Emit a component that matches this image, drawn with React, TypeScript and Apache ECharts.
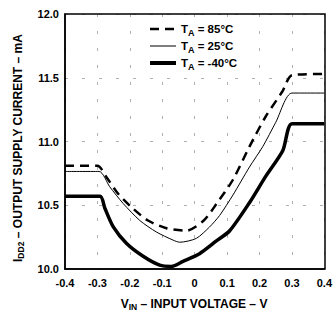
import React, { useEffect, useRef } from "react";
import * as echarts from "echarts";

const xTickLabels = ["-0.4", "-0.3", "-0.2", "-0.1", "0", "0.1", "0.2", "0.3", "0.4"];
const yTickLabels = ["10.0", "10.5", "11.0", "11.5", "12.0"];

const x85 = [-0.4, -0.3, -0.272, -0.236, -0.193, -0.144, -0.087, -0.026, 0.028, 0.067, 0.118, 0.169, 0.22, 0.27, 0.3, 0.4];
const y85 = [10.81, 10.81, 10.72, 10.59, 10.48, 10.38, 10.32, 10.3, 10.38, 10.51, 10.7, 10.96, 11.2, 11.39, 11.52, 11.53];

const x25 = [-0.4, -0.295, -0.262, -0.221, -0.169, -0.118, -0.067, -0.046, 0.005, 0.046, 0.077, 0.118, 0.169, 0.21, 0.25, 0.3, 0.4];
const y25 = [10.765, 10.765, 10.645, 10.515, 10.38, 10.29, 10.227, 10.21, 10.24, 10.33, 10.42, 10.58, 10.8, 10.96, 11.15, 11.38, 11.38];

const xm40 = [-0.4, -0.292, -0.277, -0.251, -0.21, -0.159, -0.108, -0.072, -0.036, 0.015, 0.067, 0.108, 0.169, 0.22, 0.272, 0.3, 0.4];
const ym40 = [10.57, 10.57, 10.476, 10.33, 10.2, 10.1, 10.03, 10.02, 10.06, 10.12, 10.22, 10.3, 10.52, 10.73, 10.93, 11.14, 11.14];

const seriesNames = ["TA = 85°C", "TA = 25°C", "TA = -40°C"];
const legendTemps = ["85°C", "25°C", "-40°C"];

const FONT = "Liberation Sans, Arial, sans-serif";

function pairs(xs: number[], ys: number[]) {
  return xs.map((x, i) => [x, ys[i]]);
}

export default function App() {
  const ref = useRef<HTMLDivElement>(null);
  useEffect(() => {
    if (!ref.current) return;
    const chart = echarts.init(ref.current, null, { renderer: "svg" });
    const gridLine = { show: true, lineStyle: { color: "#b0b0b0", width: 1, type: [3, 14] as any } };
    const legendWidths = [2.5, 1, 4];
    chart.setOption({
      animation: false,
      backgroundColor: "#fff",
      textStyle: { fontFamily: FONT },
      grid: { left: 65, top: 14, width: 260, height: 255, containLabel: false },
      xAxis: {
        type: "value",
        min: -0.4,
        max: 0.4,
        interval: 0.1,
        axisLine: { show: true, onZero: false, lineStyle: { color: "#000", width: 1.5 } },
        axisTick: { show: false },
        splitLine: gridLine,
        axisLabel: {
          color: "#000",
          fontSize: 11,
          fontWeight: "bold",
          fontFamily: FONT,
          margin: 8,
          formatter: (v: number) => xTickLabels[Math.round((v + 0.4) * 10)] ?? "",
        },
      },
      yAxis: {
        type: "value",
        min: 10,
        max: 12,
        interval: 0.5,
        axisLine: { show: true, onZero: false, lineStyle: { color: "#000", width: 1.5 } },
        axisTick: { show: false },
        splitLine: gridLine,
        axisLabel: {
          color: "#000",
          fontSize: 11,
          fontWeight: "bold",
          fontFamily: FONT,
          margin: 6,
          formatter: (v: number) => yTickLabels[Math.round((v - 10) * 2)] ?? "",
        },
      },
      legend: {
        orient: "vertical",
        left: 146,
        top: 21,
        itemWidth: 26,
        itemHeight: 10,
        itemGap: 3,
        backgroundColor: "#fff",
        padding: [2, 4, 2, 2],
        itemStyle: { opacity: 0 },
        data: seriesNames.map((n, i) => ({ name: n, lineStyle: { width: legendWidths[i] } })),
        formatter: (name: string) => {
          const i = seriesNames.indexOf(name);
          return `{t|T}{s|A}{t| = ${legendTemps[i]}}`;
        },
        textStyle: {
          color: "#000",
          fontFamily: FONT,
          rich: {
            t: { fontSize: 11.5, fontWeight: "bold", color: "#000", fontFamily: FONT },
            s: { fontSize: 9, fontWeight: "bold", color: "#000", fontFamily: FONT, padding: [7, 0, 0, 0] },
          },
        },
      },
      graphic: [
        {
          type: "rect",
          shape: { x: 65, y: 14, width: 260, height: 255 },
          style: { fill: "none", stroke: "#000", lineWidth: 1.5 },
          silent: true,
          z: 10,
        },
        {
          type: "text",
          x: 194,
          y: 304,
          style: {
            text: "{t|V}{s|IN}{t| – INPUT VOLTAGE – V}",
            align: "center",
            verticalAlign: "middle",
            rich: {
              t: { fontSize: 12, fontWeight: "bold", fill: "#000", fontFamily: FONT },
              s: { fontSize: 8.5, fontWeight: "bold", fill: "#000", fontFamily: FONT, padding: [6, 0, 0, 0] },
            },
          },
        },
        {
          type: "text",
          x: 18,
          y: 148,
          rotation: Math.PI / 2,
          style: {
            text: "{t|I}{s|DD2}{t| – OUTPUT SUPPLY CURRENT – mA}",
            align: "center",
            verticalAlign: "middle",
            rich: {
              t: { fontSize: 12, fontWeight: "bold", fill: "#000", fontFamily: FONT },
              s: { fontSize: 8.5, fontWeight: "bold", fill: "#000", fontFamily: FONT, padding: [6, 0, 0, 0] },
            },
          },
        },
      ],
      series: [
        {
          name: seriesNames[0],
          type: "line",
          symbol: "none",
          smooth: 0.25,
          data: pairs(x85, y85),
          lineStyle: { color: "#000", width: 2.5, type: [9, 6] },
          itemStyle: { color: "#000" },
          z: 3,
        },
        {
          name: seriesNames[1],
          type: "line",
          symbol: "none",
          smooth: 0.25,
          data: pairs(x25, y25),
          lineStyle: { color: "#000", width: 1, type: "solid" },
          itemStyle: { color: "#000" },
          z: 3,
        },
        {
          name: seriesNames[2],
          type: "line",
          symbol: "none",
          smooth: 0.25,
          data: pairs(xm40, ym40),
          lineStyle: { color: "#000", width: 3.5, type: "solid" },
          itemStyle: { color: "#000" },
          z: 3,
        },
      ],
    });
    return () => chart.dispose();
  }, []);
  return <div ref={ref} style={{ position: "fixed", left: 0, top: 0, width: 335, height: 315 }} />;
}
